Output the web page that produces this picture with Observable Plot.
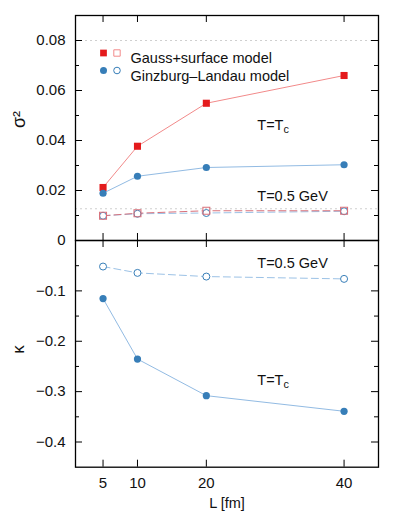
<!DOCTYPE html>
<html><head><meta charset="utf-8">
<script src="https://cdn.jsdelivr.net/npm/d3@7"></script>
<script src="https://cdn.jsdelivr.net/npm/@observablehq/plot@0.6"></script>
<style>
body{margin:0;background:#fff;}
#chart{position:relative;width:399px;height:520px;}
#chart svg{position:absolute;left:0;}
</style></head><body><div id="chart"></div>
<script>
// ---- data ----
const L = [5, 10, 20, 40];
const sigma2GaussTc = [0.0212, 0.0377, 0.0549, 0.0660];
const sigma2GLTc    = [0.0189, 0.0257, 0.0292, 0.0303];
const sigma2Gauss05 = [0.0099, 0.0109, 0.0119, 0.0119];
const sigma2GL05    = [0.0099, 0.0107, 0.0110, 0.0117];
const kappaGLTc     = [-0.1153, -0.2353, -0.3080, -0.3390];
const kappaGL05     = [-0.0517, -0.0643, -0.0716, -0.0762];
const xTicks = [5, 10, 20, 40];
const sigmaMajor = [0, 0.02, 0.04, 0.06, 0.08];
const sigmaMinor = [0.01, 0.03, 0.05, 0.07];
const kappaMajor = [-0.4, -0.3, -0.2, -0.1];
const kappaMinor = [-0.35, -0.25, -0.15, -0.05];
const refLines = [0.08, 0.0127];
const legendLabels = ["Gauss+surface model", "Ginzburg\u2013Landau model"];

const red = "#e41a1c", redLine = "#f28a8a", redDash = "#d9707a";
const blue = "#377eb8", blueLine = "#92bbe3", blueDash = "#9cc2e6";
const font = "'Liberation Sans', Arial, Helvetica, sans-serif";
const FS = 14.5;
const W = 399, ML = 75, MR = 21;
const FW = W - ML - MR; // frame width

function series(ys) { return L.map((l, i) => ({L: l, v: ys[i]})); }

// inward ticks on all four sides
function frameAndTicks(yMajor, yMinor, FH) {
  const o = {stroke: "#000", strokeWidth: 1};
  return [
    Plot.tickY(yMajor, {...o, y: d => d, insetRight: FW - 7}),
    Plot.tickY(yMinor, {...o, y: d => d, insetRight: FW - 4}),
    Plot.tickY(yMajor, {...o, y: d => d, insetLeft: FW - 7}),
    Plot.tickY(yMinor, {...o, y: d => d, insetLeft: FW - 4}),
    Plot.tickX(xTicks, {...o, x: d => d, insetBottom: FH - 7}),
    Plot.tickX(xTicks, {...o, x: d => d, insetTop: FH - 7}),
    Plot.frame({stroke: "#000", strokeWidth: 1.3})
  ];
}

function subscript(svg) {
  d3.select(svg).selectAll("text").each(function() {
    const t = this.textContent;
    if (t.endsWith("_c")) {
      const sel = d3.select(this);
      sel.text(t.slice(0, -2));
      sel.append("tspan").attr("dy", "0.3em").attr("font-size", "0.75em").text("c");
    }
  });
}

const common = {
  width: W, marginLeft: ML, marginRight: MR,
  style: {background: "transparent", fontFamily: font, fontSize: "15px", color: "#111"},
  x: {domain: [1, 45], axis: null}
};

// ---- top panel: sigma^2 ----
const topPlot = Plot.plot({
  ...common,
  height: 250, marginTop: 15, marginBottom: 10,
  y: {domain: [0, 0.09], axis: null},
  marks: [
    Plot.ruleY(refLines, {stroke: "#cfcfcf", strokeDasharray: "2,3"}),
    Plot.line(series(sigma2GL05), {x: "L", y: "v", stroke: blueDash, strokeWidth: 1, strokeDasharray: "7,4"}),
    Plot.line(series(sigma2Gauss05), {x: "L", y: "v", stroke: redDash, strokeWidth: 1, strokeDasharray: "7,4"}),
    Plot.line(series(sigma2GaussTc), {x: "L", y: "v", stroke: redLine, strokeWidth: 1}),
    Plot.line(series(sigma2GLTc), {x: "L", y: "v", stroke: blueLine, strokeWidth: 1}),
    Plot.dot(series(sigma2GL05), {x: "L", y: "v", r: 3.5, stroke: blue, strokeWidth: 1, fill: "white"}),
    Plot.dot(series(sigma2Gauss05), {x: "L", y: "v", symbol: "square", r: 3.9, stroke: redDash, strokeWidth: 1.1, fill: "none"}),
    Plot.dot(series(sigma2GaussTc), {x: "L", y: "v", symbol: "square", r: 4, fill: red}),
    Plot.dot(series(sigma2GLTc), {x: "L", y: "v", r: 3.6, fill: blue}),
    // legend
    Plot.dot([0], {frameAnchor: "top-left", dx: 28, dy: 37.5, symbol: "square", r: 3.8, fill: red}),
    Plot.dot([0], {frameAnchor: "top-left", dx: 41.5, dy: 37.5, symbol: "square", r: 3.6, stroke: redLine, strokeWidth: 1, fill: "none"}),
    Plot.dot([0], {frameAnchor: "top-left", dx: 28, dy: 55, r: 3.5, fill: blue}),
    Plot.dot([0], {frameAnchor: "top-left", dx: 41.5, dy: 55, r: 3.3, stroke: blue, strokeWidth: 1, fill: "none"}),
    Plot.text([legendLabels[0]], {frameAnchor: "top-left", dx: 55, dy: 37.5, textAnchor: "start", fontSize: FS}),
    Plot.text([legendLabels[1]], {frameAnchor: "top-left", dx: 55, dy: 55, textAnchor: "start", fontSize: FS}),
    // annotations
    Plot.text(["T=T_c"], {x: 27.4, y: 0.0462, textAnchor: "start", fontSize: FS}),
    Plot.text(["T=0.5 GeV"], {x: 27.4, y: 0.0178, textAnchor: "start", fontSize: FS}),
    ...frameAndTicks(sigmaMajor, sigmaMinor, 225),
    Plot.axisY({anchor: "left", ticks: sigmaMajor, tickSize: 0, tickPadding: 10, label: null,
      tickFormat: d => d === 0 ? "0" : d.toFixed(2)}),
    Plot.text(["\u03c3\u00b2"], {frameAnchor: "left", dx: -56, rotate: -90, fontSize: 18})
  ]
});

// ---- bottom panel: kappa ----
const bottomPlot = Plot.plot({
  ...common,
  height: 290, marginTop: 10, marginBottom: 53.3,
  y: {domain: [-0.45, 0], axis: null},
  marks: [
    Plot.line(series(kappaGL05), {x: "L", y: "v", stroke: blueDash, strokeWidth: 1, strokeDasharray: "7,4"}),
    Plot.line(series(kappaGLTc), {x: "L", y: "v", stroke: blueLine, strokeWidth: 1}),
    Plot.dot(series(kappaGL05), {x: "L", y: "v", r: 3.5, stroke: blue, strokeWidth: 1, fill: "white"}),
    Plot.dot(series(kappaGLTc), {x: "L", y: "v", r: 3.6, fill: blue}),
    Plot.text(["T=0.5 GeV"], {x: 27.4, y: -0.0457, textAnchor: "start", fontSize: FS}),
    Plot.text(["T=T_c"], {x: 27.4, y: -0.277, textAnchor: "start", fontSize: FS}),
    ...frameAndTicks(kappaMajor, kappaMinor, 226.7),
    Plot.axisY({anchor: "left", ticks: kappaMajor, tickSize: 0, tickPadding: 10, label: null,
      tickFormat: d => "\u2212" + Math.abs(d).toFixed(1)}),
    Plot.axisX({anchor: "bottom", ticks: xTicks, tickSize: 0, tickPadding: 10, label: null}),
    Plot.text(["\u03ba"], {frameAnchor: "left", dx: -57, rotate: -90, fontSize: 17}),
    Plot.text(["L [fm]"], {frameAnchor: "bottom", dy: 41, lineAnchor: "bottom", fontSize: FS})
  ]
});

subscript(topPlot);
subscript(bottomPlot);
topPlot.style.top = "0px";
bottomPlot.style.top = "230px";
const chart = document.getElementById("chart");
chart.appendChild(topPlot);
chart.appendChild(bottomPlot);
</script></body></html>
